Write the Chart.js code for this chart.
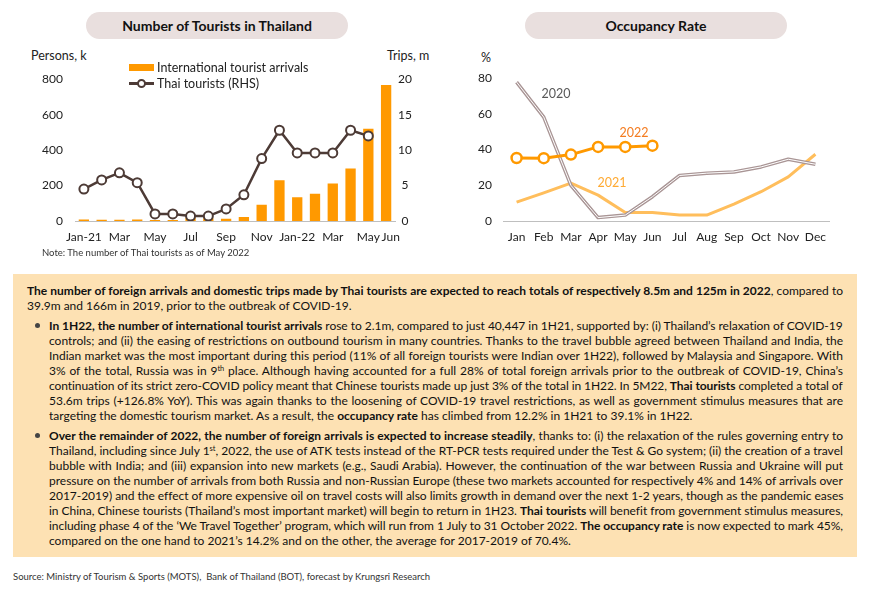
<!DOCTYPE html>
<html>
<head>
<meta charset="utf-8">
<script src="https://cdn.jsdelivr.net/npm/chart.js@4.4.0/dist/chart.umd.min.js"></script>
<style>
  body { margin: 0; width: 870px; height: 598px; background: #fff; position: relative; overflow: hidden;
         font-family: Lato, "Open Sans", sans-serif; color: #1a1a1a; }
  .abs { position: absolute; white-space: nowrap; }
  .pill { position: absolute; top: 12px; height: 27px; border-radius: 14px; background: #e9dfde;
          font-weight: 700; font-size: 14px; line-height: 27px; text-align: center; color: #111; }
  .lbl { font-size: 12.5px; color: #222; transform: translateY(-50%); }
  .ser { font-size: 12.5px; transform: translate(-50%, -50%); }
  .wrap { position: absolute; }
  .box { position: absolute; left: 13px; top: 274px; width: 816px; height: 274px; padding: 9px 14px 0 14px;
         background: #fde1b3; font-family: Lato, sans-serif;
         font-size: 12px; line-height: 15px; color: #111; }
  .row { height: 15px; white-space: nowrap; }
  .blt { margin-left: 22px; margin-top: 5px; position: relative; }
  .blt::before { content: ""; position: absolute; left: -14px; top: 5px; width: 5px; height: 5px; border-radius: 50%; background: #444; }
  sup { font-size: 0.62em; line-height: 0; vertical-align: 0.55em; }
</style>
</head>
<body>

<div class="pill" style="left:86px;width:262px;">Number of Tourists in Thailand</div>
<div class="pill" style="left:525px;width:262px;">Occupancy Rate</div>

<div class="abs lbl" style="left:31px;top:55px;">Persons, k</div>
<div class="abs lbl" style="left:387px;top:55px;">Trips, m</div>
<div class="abs lbl" style="left:481px;top:57px;">%</div>

<div class="wrap" style="left:0;top:60px;width:430px;height:191px;"><canvas id="tourChart"></canvas></div>
<div class="wrap" style="left:440px;top:60px;width:420px;height:191px;"><canvas id="occChart"></canvas></div>

<!-- legend of the left chart -->
<div class="abs" style="left:129px;top:64px;width:25px;height:7px;background:#ff9900;"></div>
<div class="abs lbl" style="left:157px;top:67px;">International tourist arrivals</div>
<div class="abs" style="left:129px;top:82px;width:25px;height:2.5px;background:#4d3b36;"></div>
<div class="abs" style="left:137px;top:78.5px;width:5px;height:5px;border:2px solid #4d3b36;border-radius:50%;background:#fff;"></div>
<div class="abs lbl" style="left:157px;top:83px;">Thai tourists (RHS)</div>

<div class="abs ser" style="left:556px;top:93px;color:#595959;">2020</div>
<div class="abs ser" style="left:634px;top:132px;color:#f47c20;">2022</div>
<div class="abs ser" style="left:612px;top:182px;color:#ffaa33;">2021</div>

<div class="abs" style="left:42px;top:247px;font-size:9.5px;color:#333;">Note: The number of Thai tourists as of May 2022</div>

<div class="box">
  <div class="row j"><span><b>The number of foreign arrivals and domestic trips made by Thai tourists are expected to reach totals of respectively 8.5m and 125m in 2022</b>, compared to</span></div>
  <div class="row"><span>39.9m and 166m in 2019, prior to the outbreak of COVID-19.</span></div>
  <div class="blt">
    <div class="row j"><span><b>In 1H22, the number of international tourist arrivals</b> rose to 2.1m, compared to just 40,447 in 1H21, supported by: (i) Thailand’s relaxation of COVID-19</span></div>
    <div class="row j"><span>controls; and (ii) the easing of restrictions on outbound tourism in many countries. Thanks to the travel bubble agreed between Thailand and India, the</span></div>
    <div class="row j"><span>Indian market was the most important during this period (11% of all foreign tourists were Indian over 1H22), followed by Malaysia and Singapore. With</span></div>
    <div class="row j"><span>3% of the total, Russia was in 9<sup>th</sup> place. Although having accounted for a full 28% of total foreign arrivals prior to the outbreak of COVID-19, China’s</span></div>
    <div class="row j"><span>continuation of its strict zero-COVID policy meant that Chinese tourists made up just 3% of the total in 1H22. In 5M22, <b>Thai tourists</b> completed a total of</span></div>
    <div class="row j"><span>53.6m trips (+126.8% YoY). This was again thanks to the loosening of COVID-19 travel restrictions, as well as government stimulus measures that are</span></div>
    <div class="row"><span>targeting the domestic tourism market. As a result, the <b>occupancy rate</b> has climbed from 12.2% in 1H21 to 39.1% in 1H22.</span></div>
  </div>
  <div class="blt">
    <div class="row j"><span><b>Over the remainder of 2022, the number of foreign arrivals is expected to increase steadily</b>, thanks to: (i) the relaxation of the rules governing entry to</span></div>
    <div class="row j"><span>Thailand, including since July 1<sup>st</sup>, 2022, the use of ATK tests instead of the RT-PCR tests required under the Test &amp; Go system; (ii) the creation of a travel</span></div>
    <div class="row j"><span>bubble with India; and (iii) expansion into new markets (e.g., Saudi Arabia). However, the continuation of the war between Russia and Ukraine will put</span></div>
    <div class="row j"><span>pressure on the number of arrivals from both Russia and non-Russian Europe (these two markets accounted for respectively 4% and 14% of arrivals over</span></div>
    <div class="row j"><span>2017-2019) and the effect of more expensive oil on travel costs will also limits growth in demand over the next 1-2 years, though as the pandemic eases</span></div>
    <div class="row j"><span>in China, Chinese tourists (Thailand’s most important market) will begin to return in 1H23. <b>Thai tourists</b> will benefit from government stimulus measures,</span></div>
    <div class="row j"><span>including phase 4 of the ‘We Travel Together’ program, which will run from 1 July to 31 October 2022. <b>The occupancy rate</b> is now expected to mark 45%,</span></div>
    <div class="row"><span>compared on the one hand to 2021’s 14.2% and on the other, the average for 2017-2019 of 70.4%.</span></div>
  </div>
</div>

<div class="abs" style="left:13px;top:571px;font-size:9.5px;color:#333;">Source: Ministry of Tourism &amp; Sports (MOTS),&nbsp; Bank of Thailand (BOT), forecast by Krungsri Research</div>

<script>
// Number of tourists (Jan-21 .. Jun-22)
const tourMonths = ["Jan-21", "Feb-21", "Mar-21", "Apr-21", "May-21", "Jun-21", "Jul-21", "Aug-21", "Sep-21",
                    "Oct-21", "Nov-21", "Dec-21", "Jan-22", "Feb-22", "Mar-22", "Apr-22", "May-22", "Jun-22"];
const tourTickLabels = ["Jan-21", "", "Mar", "", "May", "", "Jul", "", "Sep", "", "Nov", "", "Jan-22", "", "Mar", "", "May", "   Jun"];
const intlArrivals = [8, 7, 7, 9, 5, 5, 18, 15, 12, 22, 91, 230, 134, 154, 211, 296, 520, 767];  // persons, k
const thaiTrips = [4.5, 5.8, 6.8, 5.4, 1.0, 1.0, 0.7, 0.7, 1.7, 3.7, 8.8, 12.8, 9.6, 9.6, 9.6, 12.8, 12.0, null]; // trips, m

// Occupancy rate, %
const occMonths = ["Jan", "Feb", "Mar", "Apr", "May", "Jun", "Jul", "Aug", "Sep", "Oct", "Nov", "Dec"];
const occ2020 = [77.8, 58.2, 20.0, 1.9, 3.3, 13.6, 25.5, 26.8, 27.5, 30.3, 34.6, 31.8];
const occ2021 = [10.6, 15.8, 21.2, 14.5, 4.8, 4.8, 3.3, 3.3, 9.5, 16.4, 24.7, 37.4];
const occ2022 = [35.3, 35.2, 37.2, 41.5, 41.5, 42.2];

const tickFont = { family: "Lato", size: 12 };
const tickColor = "#222";

new Chart(document.getElementById("tourChart"), {
    type: "bar",
    data: {
        labels: tourMonths,
        datasets: [
            {
                type: "line",
                label: "Thai tourists (RHS)",
                data: thaiTrips,
                yAxisID: "y1",
                borderColor: "#4d3b36",
                borderWidth: 2.5,
                pointRadius: 4.5,
                pointBorderWidth: 2,
                pointBorderColor: "#4d3b36",
                pointBackgroundColor: "#ffffff",
                tension: 0,
                order: 0
            },
            {
                label: "International tourist arrivals",
                data: intlArrivals,
                yAxisID: "y",
                backgroundColor: "#ff9900",
                categoryPercentage: 1,
                barPercentage: 0.58,
                order: 1
            }
        ]
    },
    options: {
        responsive: true,
        maintainAspectRatio: false,
        animation: false,
        layout: { padding: { top: 19, left: 0, right: 0, bottom: 0 } },
        plugins: { legend: { display: false }, tooltip: { enabled: false } },
        scales: {
            x: {
                offset: true,
                grid: { display: false, drawTicks: false },
                border: { color: "#bfbfbf" },
                ticks: {
                    autoSkip: false, maxRotation: 0, padding: 9, color: tickColor, font: tickFont,
                    callback: (v, i) => tourTickLabels[i]
                },
                afterFit: s => { s.height = 30; }
            },
            y: {
                position: "left",
                min: 0, max: 800,
                grid: { display: false, drawTicks: false },
                border: { display: false },
                ticks: { stepSize: 200, padding: 12, color: tickColor, font: tickFont },
                afterFit: s => { s.width = 75; }
            },
            y1: {
                position: "right",
                min: 0, max: 20,
                grid: { display: false, drawTicks: false },
                border: { display: false },
                ticks: { stepSize: 5, padding: 3, crossAlign: "center", color: tickColor, font: tickFont },
                afterFit: s => { s.width = 35; }
            }
        }
    }
});

new Chart(document.getElementById("occChart"), {
    type: "line",
    data: {
        labels: occMonths,
        datasets: [
            {
                label: "2022",
                data: occ2022,
                borderColor: "#ff9900",
                borderWidth: 3,
                pointRadius: 5,
                pointBorderWidth: 2.5,
                pointBorderColor: "#ff9900",
                pointBackgroundColor: "#ffffff",
                order: 0
            },
            {
                // inner white stroke of the 2020 double line
                label: "2020",
                data: occ2020,
                borderColor: "#ffffff",
                borderWidth: 1,
                pointRadius: 0,
                order: 1
            },
            {
                label: "2020",
                data: occ2020,
                borderColor: "#a99595",
                borderWidth: 3.5,
                pointRadius: 0,
                order: 2
            },
            {
                label: "2021",
                data: occ2021,
                borderColor: "#ffbe5c",
                borderWidth: 3,
                pointRadius: 0,
                order: 3
            }
        ]
    },
    options: {
        responsive: true,
        maintainAspectRatio: false,
        animation: false,
        layout: { padding: { top: 18, left: 0, right: 31, bottom: 0 } },
        plugins: { legend: { display: false }, tooltip: { enabled: false } },
        elements: { line: { tension: 0, borderJoinStyle: "round" } },
        scales: {
            x: {
                offset: true,
                grid: { display: false, drawTicks: false },
                border: { color: "#bfbfbf" },
                ticks: { autoSkip: false, maxRotation: 0, padding: 9, color: tickColor, font: tickFont },
                afterFit: s => { s.height = 30; }
            },
            y: {
                min: 0, max: 80,
                grid: { display: false, drawTicks: false },
                border: { display: false },
                ticks: { stepSize: 20, padding: 11, color: tickColor, font: tickFont },
                afterFit: s => { s.width = 63; }
            }
        }
    }
});

// justify each text line to the box width (squeeze letters if it is too long)
function justifyRows() {
    document.querySelectorAll(".row.j").forEach(row => {
        const span = row.firstElementChild;
        span.style.wordSpacing = "0px";
        span.style.letterSpacing = "0px";
        const gap = row.clientWidth - span.getBoundingClientRect().width;
        const spaces = (span.textContent.match(/ /g) || []).length;
        if (gap >= 0) {
            if (spaces) span.style.wordSpacing = (gap / spaces) + "px";
        } else {
            span.style.letterSpacing = (gap / span.textContent.length) + "px";
        }
    });
}
justifyRows();
document.fonts.ready.then(justifyRows);
</script>
</body>
</html>
